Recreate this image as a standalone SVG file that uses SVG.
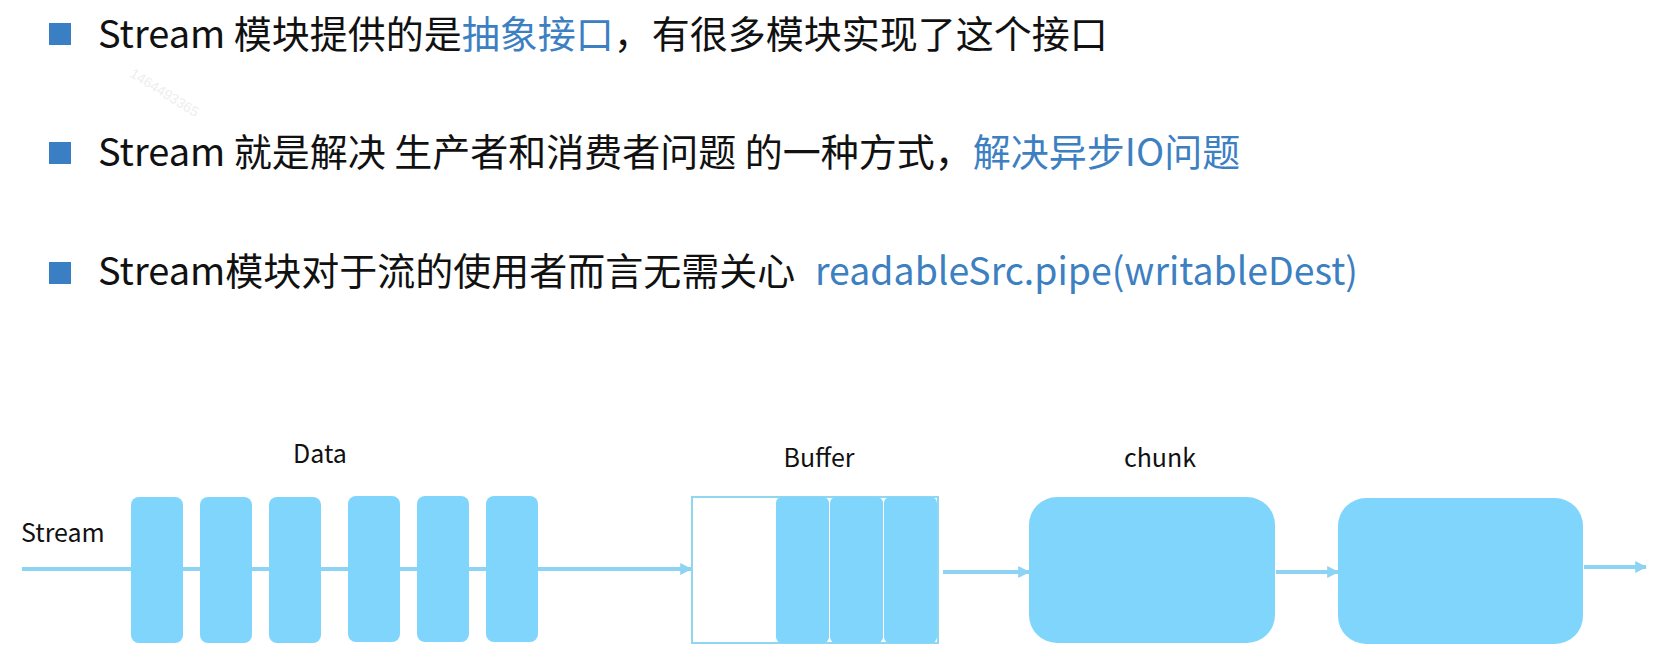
<svg xmlns="http://www.w3.org/2000/svg" width="1660" height="665" viewBox="0 0 1660 665">
  <defs>
    <style>
      .t { font-family: "Noto Sans CJK SC", "Noto Sans", sans-serif; font-size: 38px; fill: #111111; }
      .b { fill: #3c80c2; }
      .bullet { fill: #3a7fc4; }
      .lbl { font-family: "Noto Sans CJK SC", "Noto Sans", sans-serif; font-size: 25px; fill: #111111; }
      .blk { fill: #80d5fd; }
      .conn { stroke: #8dd3f3; stroke-width: 4; fill: none; marker-end: url(#ah); }
    </style>
    <marker id="ah" viewBox="0 0 10 10" refX="9" refY="5" markerWidth="3" markerHeight="3" orient="auto" markerUnits="strokeWidth">
      <path d="M0,0 L10,5 L0,10 z" fill="#8dd3f3"/>
    </marker>
  </defs>
  <rect width="1660" height="665" fill="#ffffff"/>

  <text x="129" y="76" transform="rotate(32 129 76)" font-family="Liberation Sans, sans-serif" font-size="14" fill="#eeeeee">1464493365</text>

  <g id="bullet1">
    <rect class="bullet" x="49" y="23" width="22" height="22"/>
    <text class="t" x="98" y="48">Stream 模块提供的是<tspan class="b">抽象接口</tspan>，有很多模块实现了这个接口</text>
  </g>
  <g id="bullet2">
    <rect class="bullet" x="49" y="142" width="22" height="22"/>
    <text class="t" x="98" y="166">Stream 就是解决 生产者和消费者问题 的一种方式，<tspan class="b">解决异步IO问题</tspan></text>
  </g>
  <g id="bullet3">
    <rect class="bullet" x="49" y="262" width="22" height="22"/>
    <text class="t" x="98" y="285">Stream模块对于流的使用者而言无需关心</text>
    <text class="t b" x="815" y="285" textLength="543" lengthAdjust="spacingAndGlyphs">readableSrc.pipe(writableDest)</text>
  </g>

  <g id="connectors">
    <line class="conn" x1="22" y1="569" x2="691" y2="569"/>
    <line class="conn" x1="943" y1="572" x2="1029" y2="572"/>
    <line class="conn" x1="1276" y1="572" x2="1338" y2="572"/>
    <line class="conn" x1="1584" y1="567" x2="1646" y2="567"/>
  </g>

  <g id="stream-label">
    <text class="lbl" x="21" y="542">Stream</text>
  </g>

  <g id="data">
    <text class="lbl" x="320" y="463" text-anchor="middle">Data</text>
    <rect class="blk" x="131" y="497" width="52" height="146" rx="8"/>
    <rect class="blk" x="200" y="497" width="52" height="146" rx="8"/>
    <rect class="blk" x="269" y="497" width="52" height="146" rx="8"/>
    <rect class="blk" x="348" y="496" width="52" height="146" rx="8"/>
    <rect class="blk" x="417" y="496" width="52" height="146" rx="8"/>
    <rect class="blk" x="486" y="496" width="52" height="146" rx="8"/>
  </g>

  <g id="buffer">
    <text class="lbl" x="819" y="467" text-anchor="middle">Buffer</text>
    <rect x="692" y="497" width="246" height="146" fill="#ffffff" stroke="#8fd6f0" stroke-width="2"/>
    <rect class="blk" x="776" y="497" width="53" height="146" rx="6"/>
    <rect class="blk" x="830" y="497" width="53" height="146" rx="6"/>
    <rect class="blk" x="884" y="497" width="53" height="146" rx="6"/>
  </g>

  <g id="chunk1">
    <text class="lbl" x="1160" y="467" text-anchor="middle">chunk</text>
    <rect class="blk" x="1029" y="497" width="246" height="146" rx="28"/>
  </g>

  <g id="chunk2">
    <rect class="blk" x="1338" y="498" width="245" height="146" rx="28"/>
  </g>
</svg>
